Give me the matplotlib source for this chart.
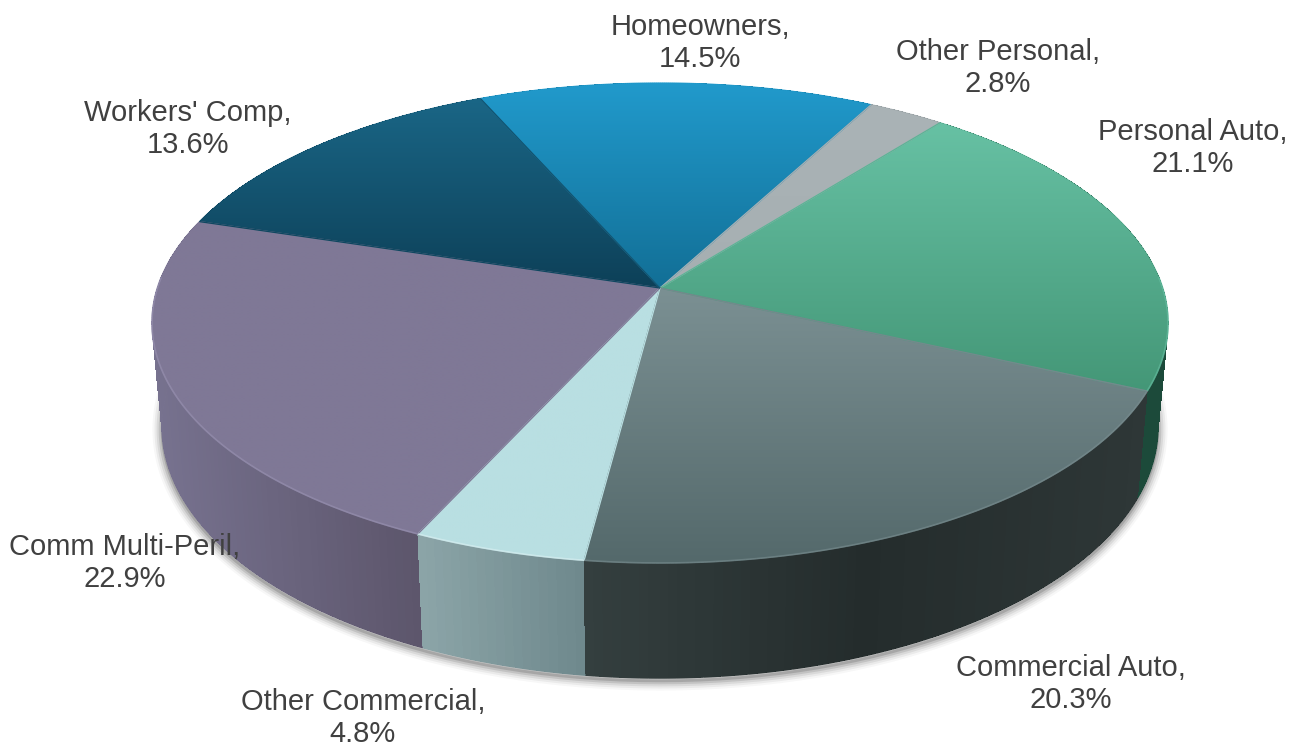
"""3D style pie of premium mix, drawn with a projected circle."""

import numpy as np
import matplotlib
matplotlib.use("Agg")
import matplotlib.pyplot as plt
from matplotlib.collections import LineCollection, PolyCollection
from matplotlib.colors import to_rgb
from matplotlib.patches import Polygon

categories = ["Homeowners", "Other Personal", "Personal Auto", "Commercial Auto",
              "Other Commercial", "Comm Multi-Peril", "Workers' Comp"]
shares = [14.5, 2.8, 21.1, 20.3, 4.8, 22.9, 13.6]

# top face colours, top of slice -> bottom of slice
top_colors = [("#219ACC", "#126F96"), ("#AAB3B6", "#A6AFB2"), ("#67C1A4", "#449777"),
              ("#7B9093", "#54696B"), ("#B9DFE2", "#B9DFE2"), ("#7F7896", "#7F7896"),
              ("#1A6686", "#0D4058")]
# side wall colours, left -> right
wall_colors = [("#126F96", "#126F96"), ("#8A9295", "#8A9295"), ("#1A4D3C", "#1C4A3A"),
               ("#343F3F", "#242C2C", "#2E3737"), ("#8CA5A8", "#6E888C"),
               ("#77728F", "#5C556B"), ("#0D4058", "#0D4058")]
rim_colors = ["#219ACC", "#AAB3B6", "#67C1A4", "#7B8F92", "#DDF3F5", "#9A93B3", "#1A6686"]
label_pos = [(700, 43), (998, 68), (1193, 148), (1071, 684), (363, 718), (125, 563), (188, 129)]

START_ANGLE = 336.1
TEXT_COLOR = "#404040"

# ── Projection of the pie circle ───────────────────────────
CX = 660
TOP_APEX, BOTTOM_APEX = 288, 390
A_TOP, B_TOP = 502.6, 192.9
LOWER_SCALE = 0.98
G = -0.1458


def project(theta, lower=False):
    """Angle clockwise from 12 o'clock (deg) to pixel coordinates."""
    t = np.radians(theta)
    u, v = np.sin(t), -np.cos(t)
    w = 1 + G * v
    if lower:
        return CX + LOWER_SCALE * A_TOP * u / w, (LOWER_SCALE * B_TOP * v + BOTTOM_APEX) / w
    return CX + A_TOP * u / w, (B_TOP * v + TOP_APEX) / w


def ramp(stops, t):
    """Colour(s) at fraction t along a list of stops."""
    rgb = np.array([to_rgb(c) for c in stops])
    pos = np.linspace(0, 1, len(stops))
    return np.column_stack([np.interp(t, pos, rgb[:, i]) for i in range(3)])


fig = plt.figure(figsize=(12.91, 7.47), dpi=100)
ax = fig.add_axes([0, 0, 1, 1])
ax.axis("off")

edges = START_ANGLE + np.concatenate([[0], np.cumsum(shares)]) * 3.6

# ── Soft shadow below the pie ──────────────────────────────
ring = np.linspace(0, 360, 361)
sx, sy = project(ring, lower=True)
for lw, alpha in zip([14, 11, 8, 5, 2], [0.03, 0.05, 0.07, 0.10, 0.14]):
    ax.plot(sx, sy + 3, color="black", lw=lw, alpha=alpha, solid_capstyle="round", zorder=1)

# ── Side walls ─────────────────────────────────────────────
quads, quad_colors, depth = [], [], []
rim_segs, rim_cols = [], []
for i in range(len(shares)):
    th = np.linspace(edges[i], edges[i + 1], max(int(shares[i] * 4), 4) + 1)
    ux, uy = project(th)
    lx, ly = project(th, lower=True)
    mid = -np.cos(np.radians((th[:-1] + th[1:]) / 2))
    xs = (ux[:-1] + ux[1:]) / 2
    lo, hi = min(ux.min(), lx.min()), max(ux.max(), lx.max())
    cols = ramp(wall_colors[i], (xs - lo) / (hi - lo))
    for k in range(len(th) - 1):
        quads.append([(ux[k], uy[k]), (ux[k + 1], uy[k + 1]), (lx[k + 1], ly[k + 1]), (lx[k], ly[k])])
        quad_colors.append(cols[k])
        depth.append(mid[k])
        if mid[k] > -0.2:
            rim_segs.append([(lx[k], ly[k]), (lx[k + 1], ly[k + 1])])
            rim_cols.append(cols[k])
order = np.argsort(depth)
# no antialiasing here, otherwise the strip seams show up as stripes
ax.add_collection(PolyCollection([quads[k] for k in order],
                                 facecolors=[quad_colors[k] for k in order],
                                 edgecolors="none", antialiaseds=False, zorder=2))
ax.add_collection(LineCollection(rim_segs, colors=rim_cols, linewidths=1.2, zorder=2.1))

# ── Top face with vertical gradients ───────────────────────
for i in range(len(shares)):
    th = np.linspace(edges[i], edges[i + 1], 200)
    rx, ry = project(th)
    px = np.concatenate([[CX], rx, [CX]])
    py = np.concatenate([[TOP_APEX], ry, [TOP_APEX]])
    y0, y1 = py.min(), py.max()
    grad = ramp(top_colors[i], np.linspace(0, 1, 256)).reshape(256, 1, 3)
    im = ax.imshow(grad, extent=(px.min(), px.max(), y1, y0), aspect="auto",
                   interpolation="bilinear", zorder=3 + i * 0.01)
    im.set_clip_path(Polygon(np.column_stack([px, py]), transform=ax.transData))
    # smooth the clipped edge
    seg_x = np.column_stack([px[:-1], px[1:]])
    seg_y = np.column_stack([py[:-1], py[1:]])
    segs = np.stack([seg_x, seg_y], axis=2)
    seg_cols = ramp(top_colors[i], (seg_y.mean(axis=1) - y0) / (y1 - y0))
    ax.add_collection(LineCollection(segs, colors=seg_cols, linewidths=0.9,
                                     zorder=3.2 + i * 0.01))
    # bevel highlight on the front part of the rim
    front = -np.cos(np.radians(th)) > -0.05
    if front.any():
        ax.plot(rx[front], ry[front], color=rim_colors[i], lw=1.2, alpha=0.6,
                solid_capstyle="butt", zorder=3.5)

# ── Labels ─────────────────────────────────────────────────
for name, share, (x, y) in zip(categories, shares, label_pos):
    ax.text(x, y, f"{name},\n{share:.1f}%", ha="center", va="center", fontsize=21,
            family="Liberation Sans", color=TEXT_COLOR, linespacing=1.17, zorder=5)

ax.set_xlim(0, 1291)
ax.set_ylim(747, 0)
fig.savefig("out.png", dpi=100, facecolor="white")
